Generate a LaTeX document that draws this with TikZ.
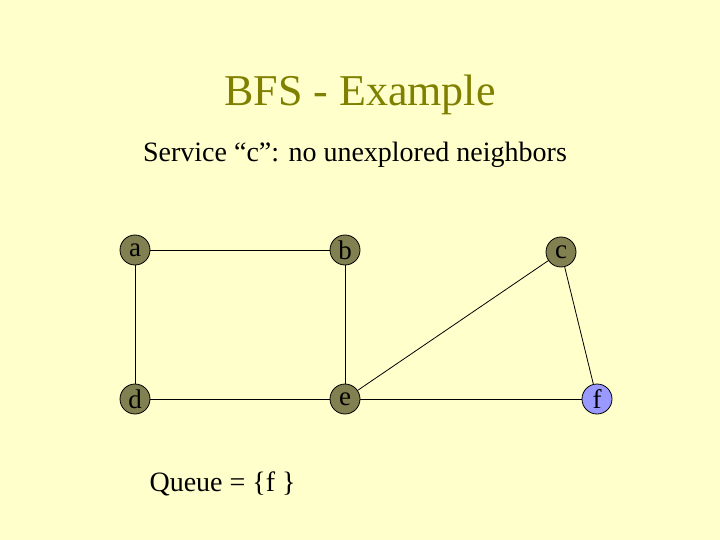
\documentclass[tikz,border=0pt]{standalone}
\usepackage{fontspec}
\setmainfont{Liberation Serif}
\definecolor{slidebg}{RGB}{255, 255, 204}
\definecolor{titleolive}{RGB}{128, 128, 0}
\definecolor{nodeolive}{RGB}{128, 128, 80}
\definecolor{nodeblue}{RGB}{153, 153, 255}
\tikzset{
  vertex/.style={circle, draw=black, line width=0.8pt, fill=nodeolive,
    minimum size=30pt, inner sep=0pt, font=\fontsize{27}{27}\selectfont},
  queued/.style={vertex, fill=nodeblue},
  edge/.style={draw=black, line width=0.8pt}
}
\begin{document}
\begin{tikzpicture}[x=1pt, y=-1pt]
    \fill[slidebg] (0,0) rectangle (720,540);
    \useasboundingbox (0,0) rectangle (720,540);
    % title and caption
    \node[text=titleolive, font=\fontsize{44}{44}\selectfont] (title) at (360,95) {BFS - Example};
    \node[font=\fontsize{28}{28}\selectfont] (caption) at (355,155) {Service “c”: no unexplored neighbors};
    % graph
    \node[vertex] (a) at (135,250) {a};
    \node[vertex] (b) at (345,250) {b};
    \node[vertex] (c) at (561,252) {c};
    \node[vertex] (d) at (135,399) {d};
    \node[vertex] (e) at (345,399) {e};
    \node[queued] (f) at (597,399) {f};
    \draw[edge] (a) -- (b);
    \draw[edge] (a) -- (d);
    \draw[edge] (b) -- (e);
    \draw[edge] (d) -- (e);
    \draw[edge] (e) -- (c);
    \draw[edge] (c) -- (f);
    \draw[edge] (e) -- (f);
    % queue contents
    \node[font=\fontsize{28}{28}\selectfont, anchor=west] (queue) at (146,484) {Queue = \{f \}};
\end{tikzpicture}
\end{document}
